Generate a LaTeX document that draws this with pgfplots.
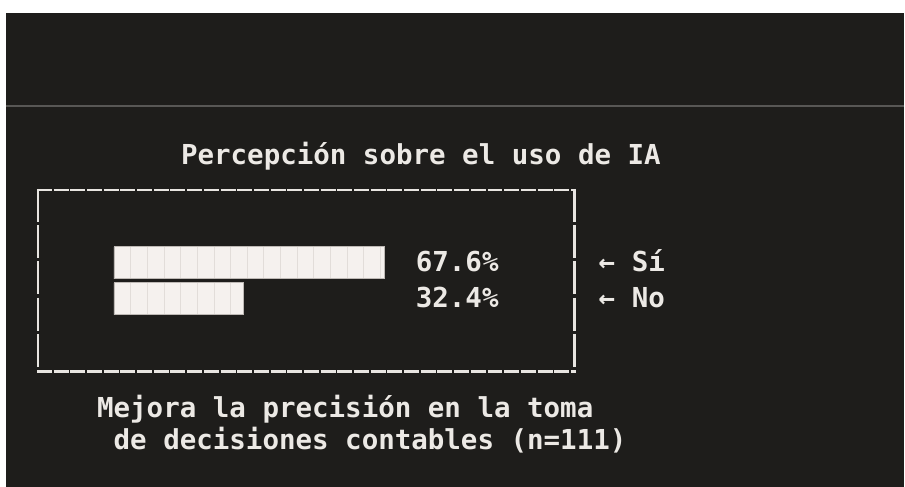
\documentclass[border=0pt]{standalone}
\usepackage{pgfplots}
\pgfplotsset{compat=1.18}
\usepackage{fontspec}
\setmonofont{DejaVu Sans Mono}
\usetikzlibrary{patterns.meta}

\definecolor{bg}{RGB}{30,29,27}
\definecolor{txt}{RGB}{236,233,229}
\definecolor{rule}{RGB}{88,87,85}
\definecolor{barfill}{RGB}{245,241,238}
\definecolor{barline}{RGB}{190,185,181}
\definecolor{cellline}{RGB}{226,221,217}
\definecolor{frame}{RGB}{232,229,225}

\pgfplotstableread{
y val
1 32.4
2 67.6
}\resp

\begin{document}
\begin{tikzpicture}[x=1bp,y=1bp,font=\ttfamily\bfseries\fontsize{27.6}{32}\selectfont]
% screen background
\fill[white] (0,0) rectangle (905,487);
\fill[bg] (6,0) rectangle (905,474);
\draw[rule,line width=1.5bp] (6,381) -- (905,381);

\node[anchor=base west,txt,inner sep=0] at (181,322) {Percepción sobre el uso de IA};

% ascii frame
\draw[frame,line width=2.6bp,dash pattern=on 15bp off 1.7bp] (37,297) -- (576,297);
\draw[frame,line width=2.6bp,dash pattern=on 15bp off 1.7bp] (37,115) -- (576,115);
\draw[frame,line width=2.6bp,dash pattern=on 33bp off 3.3bp] (38,298) -- (38,114);
\draw[frame,line width=2.6bp,dash pattern=on 33bp off 3.3bp] (575,298) -- (575,114);

\begin{axis}[
    at={(114bp,170bp)}, anchor=south west,
    scale only axis, width=400bp, height=72bp,
    xmin=0, xmax=100, ymin=0.5, ymax=2.5,
    hide axis, clip=false,
    xbar, bar width=32bp,
  ]
  \addplot[fill=barfill, draw=barline, line width=0.6bp,
    postaction={pattern={Lines[distance=16.67bp,angle=90,line width=0.7bp,xshift=14bp]},pattern color=cellline}]
    table[x=val,y=y] {\resp};
\end{axis}

\node[anchor=base west,txt,inner sep=0] at (416,215) {67.6\%};
\node[anchor=base west,txt,inner sep=0] at (416,179) {32.4\%};
\node[anchor=base west,txt,inner sep=0] at (599,215) {← Sí};
\node[anchor=base west,txt,inner sep=0] at (599,179) {← No};

\node[anchor=base west,txt,inner sep=0] at (97,69) {Mejora la precisión en la toma};
\node[anchor=base west,txt,inner sep=0] at (97,37) {\ de decisiones contables (n=111)};
\end{tikzpicture}
\end{document}
